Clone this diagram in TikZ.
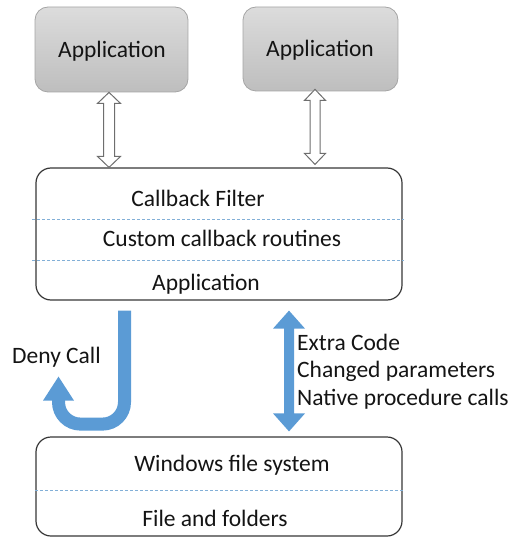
\documentclass[tikz,border=0pt]{standalone}
\usepackage{fontspec}
\setmainfont{Carlito}
\usetikzlibrary{calc}
\definecolor{officeblue}{RGB}{91,155,213}
\definecolor{sepblue}{RGB}{130,175,215}
\definecolor{boxline}{RGB}{55,55,55}
\definecolor{txtcol}{RGB}{20,20,20}
\newcommand\mydblarrow[6]{%
  \path[#1] let \p1=(#2), \p2=(#3) in
    (\x1,\y1) -- (\x1+#4pt,\y1-#6pt) -- (\x1+#5pt,\y1-#6pt) -- (\x1+#5pt,\y2+#6pt)
    -- (\x1+#4pt,\y2+#6pt) -- (\x1,\y2) -- (\x1-#4pt,\y2+#6pt) -- (\x1-#5pt,\y2+#6pt)
    -- (\x1-#5pt,\y1-#6pt) -- (\x1-#4pt,\y1-#6pt) -- cycle;}
\begin{document}
\begin{tikzpicture}[x=1pt,y=-1pt,
  appbox/.style={draw={rgb,255:red,165;green,165;blue,165}, line width=0.8pt,
    rounded corners=13pt, top color={rgb,255:red,220;green,220;blue,220},
    bottom color={rgb,255:red,190;green,190;blue,190}, inner sep=0pt},
  layerbox/.style={draw=boxline, line width=1.2pt, rounded corners=15pt, fill=white, inner sep=0pt},
  txt/.style={font=\fontsize{23.5pt}{27pt}\selectfont, text=txtcol, inner sep=0pt,
    text height=14.8pt, text depth=0pt},
  sepline/.style={draw=sepblue, line width=0.8pt, dash pattern=on 3pt off 2pt},
  hollow/.style={draw={rgb,255:red,110;green,110;blue,110}, line width=1pt, fill=white, line join=miter},
  bluefill/.style={fill=officeblue, draw=none}]
\useasboundingbox (0,0) rectangle (517,537);

% boxes
\node[appbox, minimum width=153pt, minimum height=85pt] (app1) at (111.5,49.5) {};
\node[appbox, minimum width=155pt, minimum height=84pt] (app2) at (320.5,49) {};
\node[layerbox, minimum width=366pt, minimum height=132pt] (main) at (219,234) {};
\node[layerbox, minimum width=366pt, minimum height=99pt] (fs) at (219,486.5) {};

% texts
\node[txt] (t1) at (112,50.5) {Application};
\node[txt] (t2) at (320,49.5) {Application};
\node[txt] (cbf) at (198,199) {Callback Filter};
\node[txt] (ccr) at (222,239) {Custom callback routines};
\node[txt] (capp) at (206,283) {Application};
\node[txt] (wfs) at (232,464) {Windows file system};
\node[txt] (faf) at (215,519) {File and folders};
\node[txt, anchor=west] (deny) at (12,356.5) {Deny Call};
\node[txt, anchor=west] (ex1) at (297,343) {Extra Code};
\node[txt, anchor=west] (ex2) at (297,370) {Changed parameters};
\node[txt, anchor=west] (ex3) at (297,398) {Native procedure calls};

% separators
\draw[sepline] ($(main.west)+(-3,-15)$) -- ($(main.east)+(1,-15)$);
\draw[sepline] ($(main.west)+(-3,26)$) -- ($(main.east)+(1,26)$);
\draw[sepline] ($(fs.west)+(0,3.5)$) -- ($(fs.east)+(0,3.5)$);

% hollow double arrows
\coordinate (h1t) at ($(app1.south)+(-2.5,0)$);
\coordinate (h1b) at (h1t |- main.north);
\coordinate (h2t) at ($(app2.south)+(-5.5,-2)$);
\coordinate (h2b) at ($(h2t |- main.north)+(0,-3)$);
\mydblarrow{hollow}{h1t}{h1b}{11.5}{5.5}{11}
\mydblarrow{hollow}{h2t}{h2b}{10.5}{5}{11}

% blue double arrow
\coordinate (b1) at ($(main.south)+(70,10)$);
\coordinate (b2) at ($(fs.north)+(70,-5)$);
\mydblarrow{bluefill}{b1}{b2}{16}{5}{18}

% deny-call J arrow
\coordinate (j1) at ($(main.south)+(-94.5,10)$);
\coordinate (j2) at ($(j1)+(0,113.5)$);
\coordinate (j3) at ($(j2)+(-66,0)$);
\coordinate (j4) at ($(j3)+(0,-24.5)$);
\coordinate (jt) at ($(j3)+(0,-47.5)$);
\draw[officeblue, line width=13pt, rounded corners=22pt] (j1) -- (j2) -- (j3) -- (j4);
\fill[officeblue] (jt) -- ($(j4)+(15.5,1)$) -- ($(j4)+(-15.5,1)$) -- cycle;
\end{tikzpicture}
\end{document}
